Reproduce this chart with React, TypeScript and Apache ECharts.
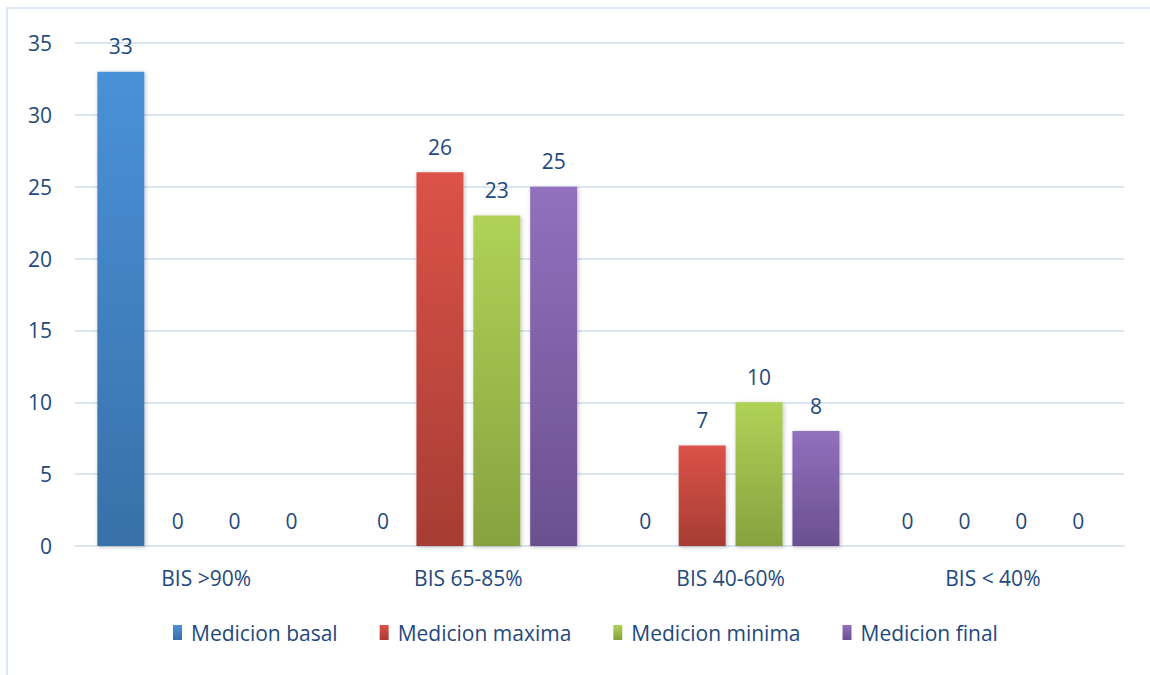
import React, { useEffect, useRef } from "react";
import * as echarts from "echarts";

const categories = ["BIS >90%", "BIS 65-85%", "BIS 40-60%", "BIS < 40%"];
const seriesNames = ["Medicion basal", "Medicion maxima", "Medicion minima", "Medicion final"];
const basal = [33, 0, 0, 0];
const maxima = [0, 26, 7, 0];
const minima = [0, 23, 10, 0];
const final = [0, 25, 8, 0];
const yTicks = [0, 5, 10, 15, 20, 25, 30, 35];

// top / bottom shades of each bar's vertical gradient
const palettes: [string, string][] = [
  ["#4a91d8", "#3870a8"],
  ["#dc5248", "#a63d34"],
  ["#afd257", "#86a23f"],
  ["#9170bd", "#6b5090"],
];

const textColor = "#1f497d";
const font = "'Open Sans', 'Liberation Sans', sans-serif";

export default function App() {
  const ref = useRef<HTMLDivElement>(null);

  useEffect(() => {
    document.body.style.margin = "0";
    if (!ref.current) return;
    const chart = echarts.init(ref.current, undefined, { renderer: "svg" });
    const values = [basal, maxima, minima, final];

    chart.setOption({
      animation: false,
      backgroundColor: "#ffffff",
      textStyle: { fontFamily: font },
      graphic: [
        {
          type: "rect",
          shape: { x: 7, y: 8, width: 1200, height: 700 },
          style: { fill: "none", stroke: "#dce8f5", lineWidth: 2 },
          silent: true,
        },
      ],
      grid: { left: 75, right: 26, top: 43, bottom: 129, containLabel: false },
      legend: {
        bottom: 27,
        left: 168,
        itemWidth: 9,
        itemHeight: 15,
        itemGap: 42,
        icon: "rect",
        textStyle: { color: textColor, fontSize: 21, fontFamily: font, padding: [0, 0, 0, 4] },
        data: seriesNames,
      },
      xAxis: {
        type: "category",
        data: categories,
        axisLine: { show: true, lineStyle: { color: "#dbe6f3", width: 2 } },
        axisTick: { show: false },
        axisLabel: { color: textColor, fontSize: 21, fontFamily: font, margin: 21 },
      },
      yAxis: {
        type: "value",
        min: yTicks[0],
        max: yTicks[yTicks.length - 1],
        interval: 5,
        axisLine: { show: false },
        axisTick: { show: false },
        splitLine: { lineStyle: { color: "#dbe6f3", width: 2 } },
        axisLabel: { color: textColor, fontSize: 21, fontFamily: font, margin: 23 },
      },
      series: seriesNames.map((name, i) => ({
        name,
        type: "bar",
        data: values[i],
        barWidth: 47,
        barGap: "21%",
        itemStyle: {
          color: new echarts.graphic.LinearGradient(0, 0, 0, 1, [
            { offset: 0, color: palettes[i][0] },
            { offset: 1, color: palettes[i][1] },
          ]),
          shadowColor: "rgba(0,0,0,0.25)",
          shadowBlur: 4,
          shadowOffsetX: 1,
          shadowOffsetY: 1,
        },
        label: {
          show: true,
          position: "top",
          distance: 15,
          color: textColor,
          fontSize: 21,
          fontFamily: font,
        },
      })),
    });

    return () => chart.dispose();
  }, []);

  return <div ref={ref} style={{ width: 1150, height: 675 }} />;
}
